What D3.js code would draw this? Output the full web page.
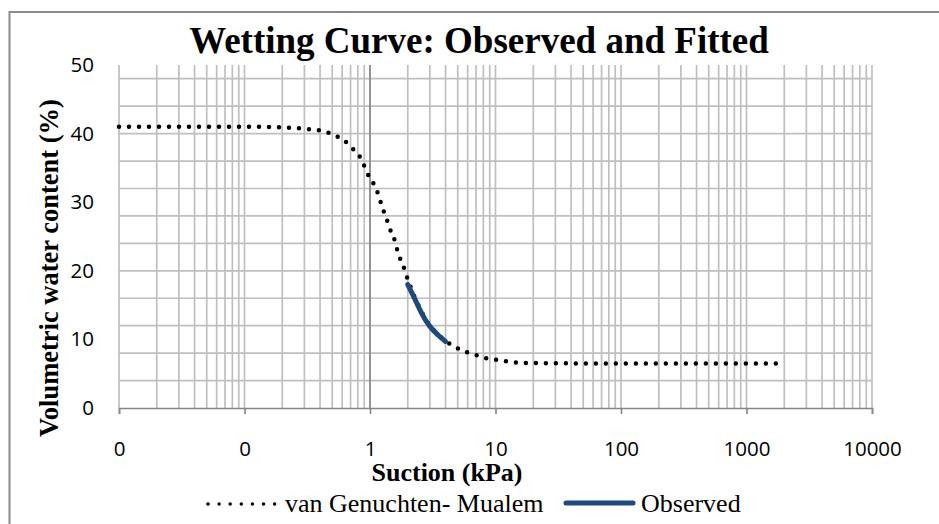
<!DOCTYPE html>
<html>
<head>
<meta charset="utf-8">
<script src="https://cdn.jsdelivr.net/npm/d3@7"></script>
<style>
  html, body { margin: 0; padding: 0; background: #fff; overflow: hidden; }
  svg { display: block; }
</style>
</head>
<body>
<div id="chart"></div>
<script>
// fitted van Genuchten-Mualem curve (suction kPa, water content %)
const fitSuction = [0.01, 0.02, 0.05, 0.1, 0.2, 0.3, 0.42, 0.51, 0.61, 0.72, 0.85, 0.96, 1.06, 1.16, 1.25, 1.37, 1.47, 1.55, 1.64, 1.77, 1.85, 1.97, 2.25, 2.5, 3.0, 3.5, 4.1, 4.5, 5.5, 6.6, 7.8, 9.4, 11.3, 13.5, 16, 20, 50, 100, 500, 1000, 2000];
const fitTheta = [41.0, 41.0, 41.0, 41.0, 40.9, 40.7, 40.4, 39.8, 39.1, 37.9, 36.3, 34.1, 32.8, 31.2, 29.3, 27.3, 25.7, 24.8, 23.2, 21.4, 20.6, 19.1, 16.3, 14.5, 12.0, 10.7, 9.6, 9.2, 8.3, 7.9, 7.4, 7.1, 6.9, 6.7, 6.6, 6.55, 6.5, 6.5, 6.5, 6.5, 6.5];

// observed wetting data
const obsSuction = [2.0, 2.25, 2.5, 2.75, 3.0, 3.5, 4.0];
const obsTheta = [18.0, 16.1, 14.3, 12.9, 11.9, 10.6, 9.7];

const xTickValues = [0.01, 0.1, 1, 10, 100, 1000, 10000];
const xTickLabels = ['0', '0', '1', '10', '100', '1000', '10000'];
const yTickValues = [0, 10, 20, 30, 40, 50];

const width = 939;
const height = 524;
const plot = { left: 119, right: 872, top: 65, bottom: 408 };
const serif = '"Liberation Serif", "Times New Roman", serif';
const sans = '"Open Sans", "Noto Sans", sans-serif';

const svg = d3.select('#chart').append('svg')
  .attr('width', width)
  .attr('height', height);

// outer chart border (runs off the right and bottom edges)
svg.append('rect')
  .attr('x', 9.5).attr('y', 12)
  .attr('width', 960).attr('height', 540)
  .attr('fill', 'none')
  .attr('stroke', '#8c8c8c')
  .attr('stroke-width', 2);

const x = d3.scaleLog().domain([0.01, 10000]).range([plot.left, plot.right]);
const y = d3.scaleLinear().domain([0, 50]).range([plot.bottom, plot.top]);

// gridlines
const grid = svg.append('g').attr('stroke', '#bfbfbf').attr('stroke-width', 1.7);

grid.selectAll('line.h')
  .data(d3.range(4, 50, 4))
  .enter().append('line')
  .attr('class', 'h')
  .attr('x1', plot.left).attr('x2', plot.right)
  .attr('y1', (d) => y(d)).attr('y2', (d) => y(d));

grid.selectAll('line.v')
  .data(x.ticks())
  .enter().append('line')
  .attr('class', 'v')
  .attr('x1', (d) => x(d)).attr('x2', (d) => x(d))
  .attr('y1', plot.top).attr('y2', plot.bottom);

// x axis (line at 0, ticks at decades)
const xAxis = d3.axisBottom(x)
  .tickValues(xTickValues)
  .tickSize(6)
  .tickFormat((d, i) => xTickLabels[i]);

const gx = svg.append('g')
  .attr('transform', `translate(0,${plot.bottom})`)
  .call(xAxis);
gx.select('.domain').attr('stroke', '#868686').attr('stroke-width', 1.6);
gx.selectAll('.tick line').attr('stroke', '#868686').attr('stroke-width', 1.6);
gx.selectAll('.tick text')
  .attr('y', 41)
  .attr('dy', '0.35em')
  .attr('fill', '#000')
  .style('font-family', sans)
  .style('font-size', '20.5px');

// y axis crosses at suction = 1
const yAxis = d3.axisLeft(y).tickValues(yTickValues).tickSize(0).tickPadding(0);
const gy = svg.append('g')
  .attr('transform', 'translate(94,0)')
  .call(yAxis);
gy.select('.domain').remove();
gy.selectAll('.tick text')
  .attr('fill', '#000')
  .style('font-family', sans)
  .style('font-size', '20.5px');

svg.append('line')
  .attr('x1', x(1)).attr('x2', x(1))
  .attr('y1', plot.top).attr('y2', plot.bottom)
  .attr('stroke', '#868686')
  .attr('stroke-width', 1.6);

// series
const fitted = fitSuction.map((s, i) => [s, fitTheta[i]]);
const observed = obsSuction.map((s, i) => [s, obsTheta[i]]);

const line = d3.line()
  .x((d) => x(d[0]))
  .y((d) => y(d[1]))
  .curve(d3.curveMonotoneX);

svg.append('path')
  .datum(fitted)
  .attr('d', line)
  .attr('fill', 'none')
  .attr('stroke', '#000')
  .attr('stroke-width', 4.5)
  .attr('stroke-linecap', 'round')
  .attr('stroke-dasharray', '0 10');

svg.append('path')
  .datum(observed)
  .attr('d', line)
  .attr('fill', 'none')
  .attr('stroke', '#1f497d')
  .attr('stroke-width', 5)
  .attr('stroke-linecap', 'round');

// titles
svg.append('text')
  .attr('x', 479).attr('y', 53)
  .attr('text-anchor', 'middle')
  .style('font-family', serif)
  .style('font-weight', 'bold')
  .style('font-size', '37px')
  .text('Wetting Curve: Observed and Fitted');

svg.append('text')
  .attr('x', 447).attr('y', 481)
  .attr('text-anchor', 'middle')
  .style('font-family', serif)
  .style('font-weight', 'bold')
  .style('font-size', '26px')
  .text('Suction (kPa)');

svg.append('text')
  .attr('transform', 'translate(58,268) rotate(-90)')
  .attr('text-anchor', 'middle')
  .style('font-family', serif)
  .style('font-weight', 'bold')
  .style('font-size', '26.5px')
  .text('Volumetric water content (%)');

// legend
const legend = svg.append('g');

legend.append('line')
  .attr('x1', 208).attr('x2', 275)
  .attr('y1', 504).attr('y2', 504)
  .attr('stroke', '#000')
  .attr('stroke-width', 3.5)
  .attr('stroke-linecap', 'round')
  .attr('stroke-dasharray', '0 11.1');

legend.append('text')
  .attr('x', 285).attr('y', 512)
  .style('font-family', serif)
  .style('font-size', '26px')
  .text('van Genuchten- Mualem');

legend.append('line')
  .attr('x1', 566).attr('x2', 633)
  .attr('y1', 503).attr('y2', 503)
  .attr('stroke', '#1f497d')
  .attr('stroke-width', 5)
  .attr('stroke-linecap', 'round');

legend.append('text')
  .attr('x', 641).attr('y', 512)
  .style('font-family', serif)
  .style('font-size', '26px')
  .text('Observed');
</script>
</body>
</html>
